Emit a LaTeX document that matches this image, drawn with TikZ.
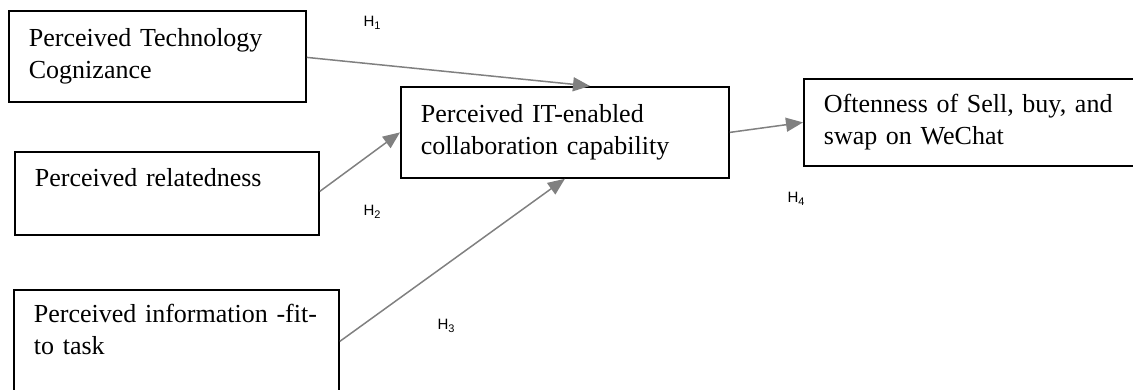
\documentclass[tikz,border=0pt]{standalone}
\usepackage{fontspec}
\setmainfont{Liberation Serif}
\newfontfamily\hfont{Liberation Sans}
\usetikzlibrary{arrows.meta,calc}
\definecolor{arr}{RGB}{128,128,128}
\begin{document}
\begin{tikzpicture}[x=1pt,y=-1pt,
  box/.style={draw=black,line width=1.8pt,rectangle,anchor=north west,inner xsep=20pt,inner ysep=0pt,align=left,font=\fontsize{26}{32}\selectfont},
  link/.style={draw=arr,line width=1.5pt,-{Triangle[length=17pt,width=14pt]}},
  hyp/.style={font=\hfont\fontsize{15}{15}\selectfont,inner sep=0pt}]
\useasboundingbox (0,0) rectangle (1133,390);
\clip (0,0) rectangle (1133,390);
\node[box,text width=257pt,minimum height=91pt] (b1) at (8,10) {Perceived Technology\\Cognizance};
\node[box,text width=264pt,minimum height=83pt] (b2) at (14,151) {Perceived relatedness\\\mbox{}};
\node[box,text width=285pt,minimum height=111pt] (b3) at (13,289) {Perceived information -fit-\\to task\\\mbox{}};
\node[box,text width=288pt,minimum height=91pt] (c) at (400,86) {Perceived IT-enabled\\collaboration capability};
\node[box,text width=307pt,minimum height=87pt] (r) at (803,78) {Oftenness of Sell, buy, and\\swap on WeChat};
\coordinate (t1) at ($(c.north west)+(190,0)$);
\draw[link] ($(b1.east)+(0,1)$) -- (t1);
\draw[link] ($(b2.east)+(0,-2)$) -- (c.west);
\draw[link] ($(b3.east)+(0,-4)$) -- (c.south);
\draw[link] (c.east) -- (r.west);
\node[hyp] (h1) at (372,23) {H\raisebox{-3pt}{\fontsize{11}{11}\selectfont 1}};
\node[hyp] (h2) at (372,212) {H\raisebox{-3pt}{\fontsize{11}{11}\selectfont 2}};
\node[hyp] (h3) at (446,326) {H\raisebox{-3pt}{\fontsize{11}{11}\selectfont 3}};
\node[hyp] (h4) at (796,199) {H\raisebox{-3pt}{\fontsize{11}{11}\selectfont 4}};
\end{tikzpicture}
\end{document}
